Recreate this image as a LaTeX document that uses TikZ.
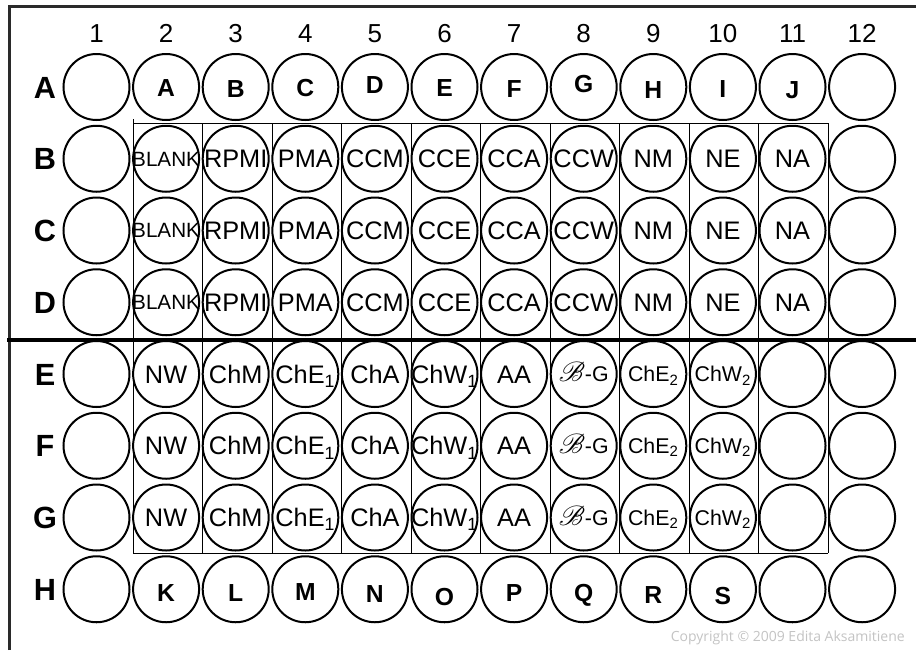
\documentclass[tikz,border=0pt]{standalone}
\usepackage{fontspec}
\setmainfont{Liberation Sans}
\newfontfamily\cpfont{Open Sans}
\usepackage{mathrsfs}
\usepackage{graphicx}
\definecolor{frame}{HTML}{2A2A2A}
\definecolor{cpgray}{HTML}{C4C4C4}
\begin{document}
\begin{tikzpicture}[x=0.75pt,y=-0.75pt,
  well/.style={circle, draw=black, line width=1.5pt, minimum size=49.5pt, inner sep=0pt},
  wtxt/.style={inner sep=0pt, anchor=base, yshift=-6.8pt, font=\fontsize{19}{19}\selectfont},
  wsmall/.style={inner sep=0pt, anchor=base, yshift=-5.7pt, font=\fontsize{16}{16}\selectfont},
  wblank/.style={inner sep=0pt, anchor=base, yshift=-5.5pt, font=\fontsize{15.5}{15.5}\selectfont},
  wbold/.style={inner sep=0pt, anchor=base, font=\fontsize{18.5}{18.5}\selectfont\bfseries},
  colnum/.style={inner sep=0pt, anchor=base, font=\fontsize{19.5}{19.5}\selectfont},
  rowlab/.style={inner sep=0pt, anchor=base, font=\fontsize{23}{23}\selectfont\bfseries},
  gridline/.style={line width=0.75pt, black},
  divider/.style={line width=3pt, black},
  border/.style={line width=2.25pt, frame},
  copy/.style={inner sep=0pt, text=cpgray, font=\cpfont\fontsize{10.5}{10.5}\selectfont}
]
\useasboundingbox (0,0) rectangle (916,650);
\fill[white] (0,0) rectangle (916,650);

% frame
\draw[border] (9.5,650) -- (9.5,6.5) -- (916,6.5);

% column numbers (baseline at y = 42.5)
\foreach \c in {1,...,12} {
  \node[colnum] (col\c) at ({96.5+(\c-1)*69.6},42.5) {\c};
}

% grid of thin lines
\draw[gridline] (133,123) -- (828,123);
\draw[gridline] (133,553) -- (828,553);
\draw[gridline] (133,119) -- (133,553);
\foreach \k in {1,...,10} {
  \draw[gridline] ({133+\k*69.5},123) -- ({133+\k*69.5},553);
}

% wells and row labels
\foreach \r [count=\i] in {A,B,C,D,E,F,G,H} {
  \node[rowlab] (row\r) at (45,{87+(\i-1)*71.75+11}) {\r};
  \foreach \c in {1,...,12} {
    \node[well] (w\r\c) at ({96.5+(\c-1)*69.6},{87+(\i-1)*71.75}) {};
  }
}

% divider
\draw[divider] (7,340) -- (916,340);

% row A labels
\foreach \t/\dy [count=\k] in {A/1,B/2,C/1,D/-2,E/1,F/2,G/-3,H/3,I/2,J/3} {
  \pgfmathtruncatemacro\cc{\k+1}
  \node[wbold, yshift={(-6.62-0.75*\dy)*1pt}] (tA\cc) at (wA\cc) {\t};
}
% rows B-D
\foreach \r in {B,C,D} {
  \node[wblank] (t\r2) at (w\r2) {BLANK};
  \foreach \t [count=\k] in {RPMI,PMA,CCM,CCE,CCA,CCW,NM,NE,NA} {
    \pgfmathtruncatemacro\cc{\k+2}
    \node[wtxt] (t\r\cc) at (w\r\cc) {\t};
  }
}
% rows E-G
\foreach \r in {E,F,G} {
  \foreach \t [count=\k] in {NW,ChM,ChE\textsubscript{1},ChA,ChW\textsubscript{1},AA} {
    \pgfmathtruncatemacro\cc{\k+1}
    \node[wtxt] (t\r\cc) at (w\r\cc) {\t};
  }
  \node[wsmall] (t\r8) at (w\r8) {\scalebox{1.2}{$\mathscr{B}$}-G};
  \node[wsmall] (t\r9) at (w\r9) {ChE\textsubscript{2}};
  \node[wsmall] (t\r10) at (w\r10) {ChW\textsubscript{2}};
}
% row H labels
\foreach \t/\dy [count=\k] in {K/3,L/3,M/2,N/4,O/7,P/3,Q/3,R/5,S/6} {
  \pgfmathtruncatemacro\cc{\k+1}
  \node[wbold, yshift={(-6.62-0.75*\dy)*1pt}] (tH\cc) at (wH\cc) {\t};
}

% copyright
\node[copy, anchor=east] (cp) at (905,638) {Copyright \textcopyright{} 2009 Edita Aksamitiene};
\end{tikzpicture}
\end{document}
